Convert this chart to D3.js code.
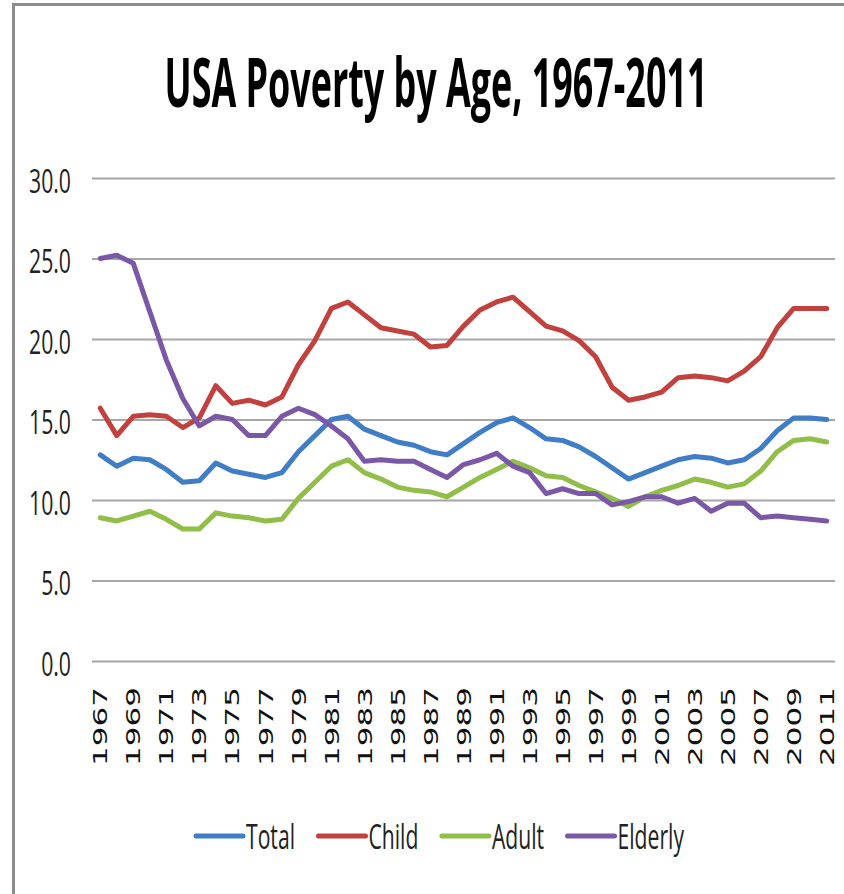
<!DOCTYPE html>
<html lang="en">
<head>
  <meta charset="UTF-8">
  <title>USA Poverty by Age, 1967-2011</title>
  <style>
    body { margin: 0; padding: 0; background: #fff; overflow: hidden; }
    svg { display: block; }
  </style>
</head>
<body>
  <div id="chart"></div>

  <script src="https://cdnjs.cloudflare.com/ajax/libs/d3/7.8.5/d3.min.js"></script>
  <script>
    // data
    const years = d3.range(1967, 2012);
    const yTicks = [0, 5, 10, 15, 20, 25, 30];
    const total = [12.8, 12.1, 12.6, 12.5, 11.9, 11.1, 11.2, 12.3, 11.8, 11.6,
                   11.4, 11.7, 13.0, 14.0, 15.0, 15.2, 14.4, 14.0, 13.6, 13.4,
                   13.0, 12.8, 13.5, 14.2, 14.8, 15.1, 14.5, 13.8, 13.7, 13.3,
                   12.7, 12.0, 11.3, 11.7, 12.1, 12.5, 12.7, 12.6, 12.3, 12.5,
                   13.2, 14.3, 15.1, 15.1, 15.0];
    const child = [15.7, 14.0, 15.2, 15.3, 15.2, 14.5, 15.1, 17.1, 16.0, 16.2,
                   15.9, 16.4, 18.4, 19.9, 21.9, 22.3, 21.5, 20.7, 20.5, 20.3,
                   19.5, 19.6, 20.8, 21.8, 22.3, 22.6, 21.7, 20.8, 20.5, 19.9,
                   18.9, 17.0, 16.2, 16.4, 16.7, 17.6, 17.7, 17.6, 17.4, 18.0,
                   18.9, 20.7, 21.9, 21.9, 21.9];
    const adult = [8.9, 8.7, 9.0, 9.3, 8.8, 8.2, 8.2, 9.2, 9.0, 8.9,
                   8.7, 8.8, 10.1, 11.1, 12.1, 12.5, 11.7, 11.3, 10.8, 10.6,
                   10.5, 10.2, 10.8, 11.4, 11.9, 12.4, 12.0, 11.5, 11.4, 10.9,
                   10.5, 10.1, 9.6, 10.2, 10.6, 10.9, 11.3, 11.1, 10.8, 11.0,
                   11.8, 13.0, 13.7, 13.8, 13.6];
    const elderly = [25.0, 25.2, 24.7, 21.7, 18.7, 16.3, 14.6, 15.2, 15.0, 14.0,
                     14.0, 15.2, 15.7, 15.3, 14.6, 13.8, 12.4, 12.5, 12.4, 12.4,
                     11.9, 11.4, 12.2, 12.5, 12.9, 12.1, 11.7, 10.4, 10.7, 10.4,
                     10.4, 9.7, 9.9, 10.2, 10.2, 9.8, 10.1, 9.3, 9.8, 9.8,
                     8.9, 9.0, 8.9, 8.8, 8.7];
    const seriesNames = ["Total", "Child", "Adult", "Elderly"];
    const seriesColors = ["#3f7dc6", "#c0413d", "#90be48", "#7a58a6"];

    const series = [total, child, adult, elderly].map((vals, i) => ({
      name: seriesNames[i], color: seriesColors[i], values: vals
    }));

    const width = 844, height = 894;
    const plotL = 92, plotR = 835, plotT = 178, plotB = 661;

    const svg = d3.select("#chart").append("svg")
      .attr("width", width)
      .attr("height", height);

    // outer frame (top + left edges only visible)
    svg.append("path")
      .attr("d", `M13.5,${height} V4.5 H${width}`)
      .attr("fill", "none")
      .attr("stroke", "#8c8c8c")
      .attr("stroke-width", 3);

    const x = d3.scaleBand().domain(years).range([plotL, plotR]);
    const xc = d => x(d) + x.bandwidth() / 2;
    const y = d3.scaleLinear().domain([0, 30]).range([plotB, plotT]);

    // squeeze a text element horizontally so it is `w` px wide
    function fitWidth(node, w) {
      const len = node.getComputedTextLength();
      return w / len;
    }

    // title
    const title = svg.append("text")
      .attr("font-family", "'Open Sans', sans-serif")
      .attr("font-weight", 700)
      .attr("font-size", 68)
      .attr("fill", "#000")
      .attr("text-anchor", "middle")
      .text("USA Poverty by Age, 1967-2011");
    const tsx = fitWidth(title.node(), 543);
    title.attr("transform", `translate(436,107) scale(${tsx},1)`);

    // gridlines + y labels
    const yAxis = svg.append("g")
      .attr("transform", `translate(${plotL},0)`)
      .call(d3.axisLeft(y).tickValues(yTicks).tickSize(-(plotR - plotL)).tickFormat(d3.format(".1f")));
    yAxis.select(".domain").remove();
    yAxis.selectAll(".tick line")
      .attr("stroke", "#a6a6a6")
      .attr("stroke-width", 2);
    const yLabels = yAxis.selectAll(".tick text")
      .attr("font-family", "'Open Sans', sans-serif")
      .attr("font-size", 32)
      .attr("fill", "#222")
      .attr("x", 0)
      .attr("dy", "0.38em");
    const probe = yLabels.filter(d => d === 30).node();
    const ysx = fitWidth(probe, 42);
    yLabels.attr("transform", `translate(-21,2) scale(${ysx},1)`);

    // x labels, every other year, rotated
    svg.append("g").selectAll("text")
      .data(years.filter(d => d % 2 === 1))
      .join("text")
      .attr("font-family", "'DejaVu Sans', sans-serif")
      .attr("font-size", 31)
      .attr("fill", "#111")
      .attr("text-anchor", "end")
      .attr("dy", "0.36em")
      .attr("transform", d => `translate(${xc(d)},687) scale(0.64,1) rotate(-90)`)
      .text(d => d);

    // lines
    const line = d3.line()
      .x((d, i) => xc(years[i]))
      .y(d => y(d));

    svg.append("g").selectAll("path")
      .data(series)
      .join("path")
      .attr("d", d => line(d.values))
      .attr("fill", "none")
      .attr("stroke", d => d.color)
      .attr("stroke-width", 5)
      .attr("stroke-linejoin", "round")
      .attr("stroke-linecap", "round");

    // legend
    const legend = svg.append("g");
    const lineLen = 47, gapText = 3, gapItem = 23.5, legY = 836;
    let cursor = 0;
    let lsx = null;
    series.forEach(s => {
      const item = legend.append("g");
      item.append("line")
        .attr("x1", cursor).attr("x2", cursor + lineLen)
        .attr("y1", 0).attr("y2", 0)
        .attr("stroke", s.color)
        .attr("stroke-width", 5)
        .attr("stroke-linecap", "round");
      const t = item.append("text")
        .attr("font-family", "'Open Sans', sans-serif")
        .attr("font-size", 35)
        .attr("fill", "#222")
        .attr("dy", "0.36em")
        .text(s.name);
      if (lsx === null) lsx = fitWidth(t.node(), 49);
      const tx = cursor + lineLen + gapText;
      t.attr("transform", `translate(${tx},0) scale(${lsx},1)`);
      cursor = tx + t.node().getComputedTextLength() * lsx + gapItem;
    });
    const legW = cursor - gapItem;
    legend.attr("transform", `translate(${440 - legW / 2},${legY})`);
  </script>
</body>
</html>
